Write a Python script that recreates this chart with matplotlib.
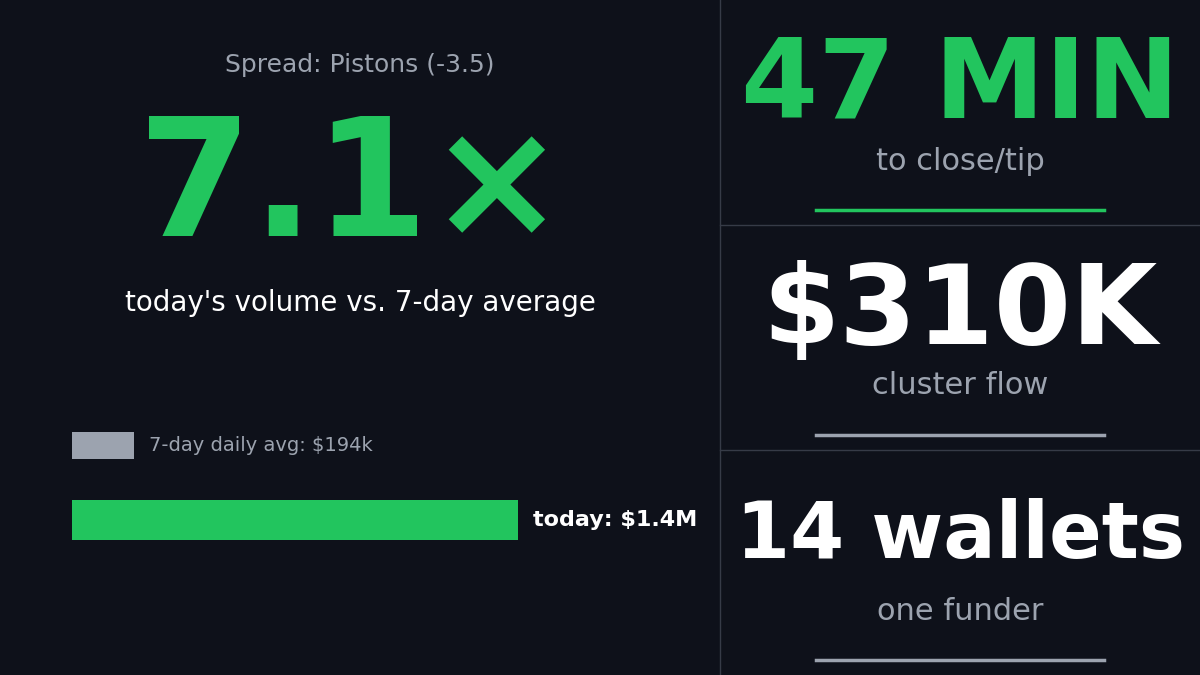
import matplotlib
matplotlib.use('Agg')
import matplotlib.pyplot as plt
from matplotlib.lines import Line2D

BG = '#0e111a'
GREEN = '#22c55e'
GREY = '#9ca3af'
BAR_GREY = '#9ca3af'

bar_labels = ['today: $1.4M', '7-day daily avg: $194k']
bar_values = [1400, 194]
bar_colors = [GREEN, BAR_GREY]

stats = ['47 MIN', '$310K', '14 wallets']
stat_subs = ['to close/tip', 'cluster flow', 'one funder']
stat_colors = [GREEN, 'white', 'white']
stat_sizes = [80, 80, 56]
rule_colors = [GREEN, GREY, GREY]

W, H = 1200, 675
fig = plt.figure(figsize=(12, 6.75), dpi=100, facecolor=BG)

def fy(y):
    return 1 - y / H

# left panel
fig.text(360 / W, fy(65), 'Spread: Pistons (-3.5)', color=GREY, fontsize=18,
         ha='center', va='center')
fig.text(352 / W, fy(190), '7.1×', color=GREEN, fontsize=118, fontweight='bold',
         ha='center', va='center')
fig.text(360 / W, fy(303), "today's volume vs. 7-day average", color='white',
         fontsize=20, ha='center', va='center')

ax = fig.add_axes([72 / W, fy(560), 446 / W, 150 / H])
ax.set_facecolor(BG)
ax.set_xlim(0, 1400)
ax.set_ylim(0, 150)
ypos = [40, 114.5]
heights = [40, 27]
for lab, v, c, yy, h in zip(bar_labels, bar_values, bar_colors, ypos, heights):
    ax.barh(yy, v, height=h, color=c)
bold = [True, False]
for lab, v, yy, b in zip(bar_labels, bar_values, ypos, bold):
    ax.text(v + 47, yy, lab, color='white' if b else GREY,
            fontsize=16 if b else 14, fontweight='bold' if b else 'normal',
            va='center', ha='left', clip_on=False)
ax.axis('off')

# dividers
fig.add_artist(Line2D([720 / W, 720 / W], [0, 1], color='#363b47', lw=1))
for y in [225, 450]:
    fig.add_artist(Line2D([720 / W, 1], [fy(y), fy(y)], color='#363b47', lw=1))

# right panel
offsets = [87, 88, 86]
for i, (s, sub, c, sz, rc) in enumerate(zip(stats, stat_subs, stat_colors,
                                             stat_sizes, rule_colors)):
    top = i * 225
    fig.text(960 / W, fy(top + offsets[i]), s, color=c, fontsize=sz,
             fontweight='bold', ha='center', va='center')
    fig.text(960 / W, fy(top + 161), sub, color=GREY, fontsize=22,
             ha='center', va='center')
    fig.add_artist(Line2D([816 / W, 1104 / W], [fy(top + 210), fy(top + 210)],
                          color=rc, lw=2.5))

fig.savefig('out.png', facecolor=BG)
